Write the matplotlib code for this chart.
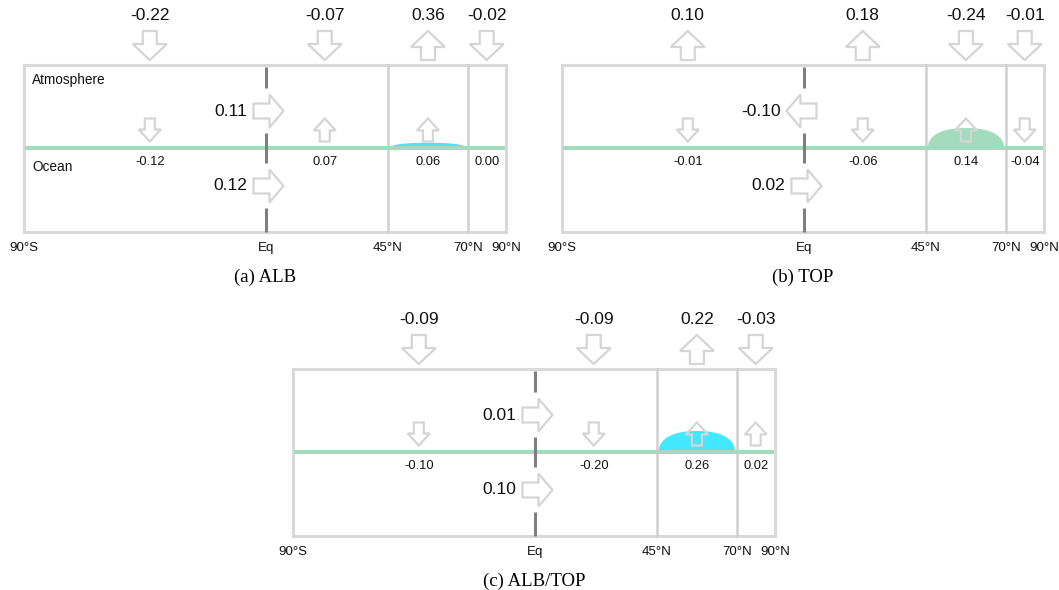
import numpy as np
import matplotlib
matplotlib.use('Agg')
import matplotlib.pyplot as plt
from matplotlib.patches import Polygon, Rectangle

# ==============================================
# data
# ==============================================
PANEL_TITLES = ['(a) ALB', '(b) TOP', '(c) ALB/TOP']
LAT_LABELS = ['90°S', 'Eq', '45°N', '70°N', '90°N']

# top-of-atmosphere flux per band (90S-Eq, Eq-45N, 45N-70N, 70N-90N)
TOA_FLUX = [[-0.22, -0.07, 0.36, -0.02],
            [0.10, 0.18, -0.24, -0.01],
            [-0.09, -0.09, 0.22, -0.03]]
# surface flux per band
SFC_FLUX = [[-0.12, 0.07, 0.06, 0.00],
            [-0.01, -0.06, 0.14, -0.04],
            [-0.10, -0.20, 0.26, 0.02]]
# cross-equatorial transports
ATM_TRANSPORT = [0.11, -0.10, 0.01]
OCN_TRANSPORT = [0.12, 0.02, 0.10]
# relative height of the 45N-70N bump
ICE_BUMP = [0.25, 0.95, 1.0]
BUMP_COLORS = ['#41e8ff', '#a3dbbe', '#41e8ff']

# ==============================================
# layout (pixels)
# ==============================================
BOX_W, BOX_H = 482, 167
LINE_Y = 83
BOUND_X = [0, 0.502, 0.755, 0.921, 1.0]
ARROW_X = [0.261, 0.624, 0.838, 0.96]
PANEL_ORIGIN = [(24, 65), (562, 65), (293, 369)]

ARROW_EDGE = '#d5d5d5'
GREEN = '#a3dbbe'
SANS = 'Liberation Sans'


def block_arrow(ax, cx, cy, length, width, shaft, head, direction):
    L = length
    pts = np.array([[-L / 2, -shaft / 2], [L / 2 - head, -shaft / 2],
                    [L / 2 - head, -width / 2], [L / 2, 0],
                    [L / 2 - head, width / 2], [L / 2 - head, shaft / 2],
                    [-L / 2, shaft / 2]])
    if direction == 'left':
        pts = np.column_stack([-pts[:, 0], pts[:, 1]])
    elif direction == 'down':
        pts = np.column_stack([pts[:, 1], pts[:, 0]])
    elif direction == 'up':
        pts = np.column_stack([pts[:, 1], -pts[:, 0]])
    pts = pts + np.array([cx, cy])
    ax.add_patch(Polygon(pts, closed=True, facecolor='none', edgecolor=ARROW_EDGE,
                         linewidth=1.6, joinstyle='miter', zorder=6))


fig = plt.figure(figsize=(10.59, 5.90), dpi=100)
ax = fig.add_axes([0, 0, 1, 1])
ax.set_xlim(0, 1059)
ax.set_ylim(590, 0)
ax.axis('off')

for p in range(3):
    ox, oy = PANEL_ORIGIN[p]
    xb = [ox + f * BOX_W for f in BOUND_X]
    xa = [ox + f * BOX_W for f in ARROW_X]
    ly = oy + LINE_Y
    eq = xb[1]

    # bump between 45N and 70N
    t = np.linspace(-1, 1, 200)
    h = ICE_BUMP[p] * 21
    bx = (xb[2] + xb[3]) / 2 + t * (xb[3] - xb[2] - 4) / 2
    by = ly - h * (1 - np.abs(t) ** 2.3) ** (1 / 2.3)
    ax.fill(np.r_[bx, bx[-1], bx[0]], np.r_[by, ly, ly], color=BUMP_COLORS[p],
            linewidth=0, zorder=2)

    # box and latitude lines
    ax.add_patch(Rectangle((ox, oy), BOX_W, BOX_H, fill=False, edgecolor='#d9d9d9',
                           linewidth=2.2, zorder=3))
    for x in xb[2:4]:
        ax.plot([x, x], [oy, oy + BOX_H], color='#d0d0d0', lw=1.8, zorder=3)
    ax.plot([ox + 1, ox + BOX_W - 1], [ly, ly], color=GREEN, lw=2.9,
            solid_capstyle='butt', zorder=4)

    # equator line, broken where the transport arrows are
    up_y = oy + 46
    lo_y = ly + 38
    segs = [(oy + 2, up_y - 23), (up_y + 22, lo_y - 23), (lo_y + 22, oy + BOX_H)]
    for y0, y1 in segs:
        ax.plot([eq, eq], [y0, y1], color='#7f7f7f', lw=2.2,
                solid_capstyle='butt', zorder=5)

    # TOA arrows
    for i in range(4):
        v = TOA_FLUX[p][i]
        block_arrow(ax, xa[i], oy - 19.5, 29, 34, 14, 16, 'up' if v > 0 else 'down')
        ax.text(xa[i], oy - 49, f'{v:.2f}', ha='center', va='center',
                fontsize=12.5, family=SANS, color='#111111')

    # surface arrows
    for i in range(4):
        v = SFC_FLUX[p][i]
        if v != 0:
            block_arrow(ax, xa[i], ly - 18, 23, 22, 10, 12, 'up' if v > 0 else 'down')
        ax.text(xa[i], ly + 14, f'{v:.2f}', ha='center', va='center',
                fontsize=9.3, family=SANS, color='#111111')

    # transports across the equator
    for v, cy in [(ATM_TRANSPORT[p], up_y), (OCN_TRANSPORT[p], lo_y)]:
        s = 1 if v > 0 else -1
        cx = eq + 2.5 * s
        block_arrow(ax, cx, cy, 30, 33, 15, 14, 'right' if v > 0 else 'left')
        ax.text(cx - 21, cy, f'{v:.2f}', ha='right', va='center',
                fontsize=12.5, family=SANS, color='#111111')

    if p == 0:
        ax.text(ox + 8, oy + 15, 'Atmosphere', ha='left', va='center',
                fontsize=9.8, family=SANS, color='#111111')
        ax.text(ox + 8, oy + 102, 'Ocean', ha='left', va='center',
                fontsize=9.8, family=SANS, color='#111111')

    for x, lab in zip(xb, LAT_LABELS):
        ax.text(x, oy + 183, lab, ha='center', va='center', fontsize=9.6,
                family=SANS, color='#111111')

    ax.text(ox + BOX_W / 2, oy + 212, PANEL_TITLES[p], ha='center', va='center',
            fontsize=13.5, family='Liberation Serif')

fig.savefig('out.png', dpi=100)
